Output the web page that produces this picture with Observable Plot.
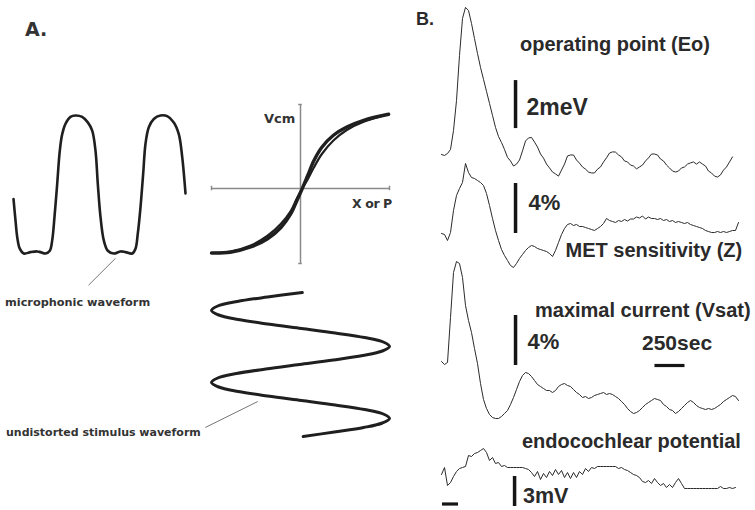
<!DOCTYPE html>
<html><head><meta charset="utf-8">
<script src="https://cdn.jsdelivr.net/npm/d3@7"></script>
<script src="https://cdn.jsdelivr.net/npm/@observablehq/plot@0.6"></script>
<style>
html,body{margin:0;padding:0;background:#fff;}
#fig{position:relative;width:755px;height:510px;overflow:hidden;background:#fff;}
.lbl{position:absolute;white-space:nowrap;line-height:1;}
.fa{font-family:"DejaVu Sans",sans-serif;font-weight:bold;color:#333;}
.fb{font-family:"Liberation Sans",Arial,sans-serif;font-weight:bold;color:#2a2a2a;}
</style></head><body><div id="fig"></div><script>
// ---------- Panel A data ----------
// microphonic waveform: time (arb. units) and normalised Vcm
const micTime = [0,2,3.7,6.3,10.3,17,23.7,27,32,36.3,38.7,41,43.7,46.3,48.7,52,57,62,68.7,74.3,78.7,82,84.3,87,90.3,94.3,100.3,107,112,118.7,122,124.3,127,129.7,132,135.3,140.3,147,153.7,160.3,165.3,168.7,172];
const micVcm  = [-0.21,-0.52,-0.76,-0.93,-1.0,-0.98,-0.97,-0.98,-1.0,-0.96,-0.81,-0.47,0.01,0.49,0.73,0.88,0.98,1.0,0.98,0.90,0.78,0.49,0.01,-0.47,-0.81,-0.96,-1.0,-0.97,-0.98,-1.0,-0.93,-0.71,-0.33,0.16,0.59,0.83,0.95,1.0,0.99,0.90,0.73,0.40,-0.13];
// transfer function (X or P -> Vcm), two branches of the loop
const tfX       = [-1.0,-0.79,-0.56,-0.37,-0.22,-0.11,-0.04,0.02,0.08,0.15,0.24,0.37,0.52,0.71,0.99];
const tfBranch1 = [-0.86,-0.85,-0.78,-0.67,-0.52,-0.34,-0.16,0.0,0.17,0.37,0.55,0.71,0.82,0.91,0.99];
const tfBranch2 = [-0.86,-0.84,-0.76,-0.63,-0.47,-0.30,-0.13,0.0,0.12,0.28,0.46,0.64,0.78,0.89,0.99];
const tfAxisX = [-1, 1];
const tfAxisY = [-1.0, 1.12];
// undistorted stimulus waveform: amplitude sampled every 1/16 cycle
const stimStep = 1/16;
const stimAmp = [0.02,-0.37,-0.71,-0.93,-1.0,-0.92,-0.70,-0.37,0.01,0.39,0.72,0.93,1.0,0.92,0.70,0.37,-0.01,-0.39,-0.72,-0.93,-1.0,-0.92,-0.70,-0.37,0.01,0.39,0.72,0.93,1.0,0.92,0.71,0.38,0.03];

// ---------- Panel B data (sampled every 25 sec) ----------
const dt = 25; // sec
const operatingPoint = [0.25,0.21,0.29,0.46,1.25,2.5,4.38,5.92,6.38,6.25,
 5.71,5.08,4.46,3.88,3.38,2.88,2.38,1.88,1.38,1.0,
 0.75,0.46,0.13,-0.02,-0.23,-0.15,0.02,0.40,0.81,0.94,
 0.96,0.77,0.56,0.27,0.10,-0.15,-0.31,-0.48,-0.56,-0.65,
 -0.40,-0.15,0.19,0.23,0.23,0.02,-0.11,-0.27,-0.36,-0.48,
 -0.52,-0.52,-0.36,-0.27,-0.06,0.11,0.31,0.36,0.35,0.23,
 0.15,-0.02,-0.06,-0.19,-0.23,-0.35,-0.27,-0.19,-0.02,0.11,
 0.27,0.27,0.23,0.06,-0.02,-0.19,-0.31,-0.44,-0.48,-0.44,
 -0.31,-0.27,-0.15,-0.10,-0.06,-0.15,-0.06,-0.15,-0.23,-0.44,
 -0.52,-0.65,-0.69,-0.60,-0.40,-0.27,-0.06,0.15]; // meV
const metSensitivity = [0.0,-0.08,-0.56,0.08,1.84,3.04,3.6,4.08,5.6,4.88,
 4.48,4.4,4.24,4.08,3.84,3.2,2.24,1.2,0.24,-0.56,
 -1.28,-1.76,-2.16,-2.56,-2.72,-2.4,-2.0,-1.68,-1.36,-1.12,
 -0.96,-1.04,-1.2,-1.28,-1.36,-1.44,-1.6,-1.84,-1.36,-0.72,
 -0.08,0.4,0.72,0.8,0.64,0.72,0.56,0.56,0.48,0.40,
 0.32,0.24,0.40,0.56,0.8,1.2,1.04,0.96,0.88,1.04,
 0.96,1.12,1.0,1.16,1.16,1.32,1.24,1.4,1.16,1.32,
 1.2,1.2,1.12,1.2,1.04,1.12,0.96,1.04,0.88,0.96,
 0.88,0.8,0.88,0.72,0.64,0.56,0.48,0.4,0.24,0.16,
 0.08,0.08,0.16,0.08,0.16,0.08,0.16,0.24,0.24,0.88]; // %
const maximalCurrent = [-0.08,-0.32,-0.16,3.44,7.04,7.92,7.76,6.64,4.4,3.2,
 2.24,0.96,-0.24,-1.84,-3.12,-3.84,-4.32,-4.56,-4.64,-4.64,
 -4.48,-4.24,-4.0,-3.52,-2.96,-2.32,-1.68,-1.2,-0.96,-1.04,
 -1.28,-1.6,-1.92,-2.08,-2.24,-2.4,-2.4,-2.56,-2.4,-2.08,
 -1.92,-1.84,-2.0,-2.08,-2.32,-2.56,-2.72,-2.96,-2.88,-3.04,
 -2.96,-2.8,-2.72,-2.64,-2.56,-2.72,-2.64,-2.72,-2.88,-3.04,
 -3.28,-3.52,-3.84,-4.08,-4.24,-4.16,-4.0,-3.76,-3.52,-3.36,
 -3.2,-3.04,-3.12,-3.2,-3.52,-3.68,-3.92,-4.0,-4.24,-4.08,
 -3.84,-3.6,-3.36,-3.2,-3.36,-3.6,-3.76,-3.84,-3.92,-3.84,
 -3.92,-3.84,-3.68,-3.52,-3.28,-3.12,-2.96,-2.8,-2.88,-3.2]; // %
const endocochlear = [-0.4,0.3,-1.5,-1.2,-0.6,-0.1,0.2,0.3,0.4,1.5,
 1.4,1.7,1.8,2.0,2.2,1.8,1.0,1.3,0.7,0.8,
 0.4,0.5,0.3,0.3,0.3,0.3,0.3,0.3,0.2,0.1,
 -0.2,-0.6,-0.1,-0.9,-0.3,-0.7,-0.1,-0.5,0.1,-0.4,
 0.0,-0.7,-0.2,-0.8,-0.2,-0.7,-0.1,-0.4,0.2,-0.1,
 0.3,0.2,0.4,0.4,0.4,0.4,0.4,0.4,0.4,0.2,
 0.3,0.1,0.0,-0.2,-0.4,-0.5,-0.7,-1.1,-1.2,-1.0,
 -1.3,-0.8,-1.2,-1.5,-1.3,-1.7,-1.4,-1.7,-1.2,-0.8,
 -1.3,-1.8,-1.8,-1.8,-1.8,-1.8,-1.8,-1.8,-1.8,-1.8,
 -1.8,-1.8,-1.8,-1.6,-1.8,-1.8,-1.7,-1.8,-1.7]; // mV
// scale bar values
const barEo = 2, barZ = 4, barVsat = 4, barEP = 3, barTime = 250;

// ---------- Texts ----------
const texts = {
  A: "A.", B: "B.",
  mic: "microphonic waveform", stim: "undistorted stimulus waveform",
  vcm: "Vcm", xp: "X or P",
  eo: "operating point (Eo)", eoBar: "2meV",
  z: "MET sensitivity (Z)", zBar: "4%",
  vsat: "maximal current (Vsat)", vsatBar: "4%", time: "250sec",
  ep: "endocochlear potential", epBar: "3mV"
};

// ---------- layout ----------
const fig = document.getElementById("fig");
function layer(x, y, marks) {
  const svg = Plot.plot({
    width: 755, height: 510, margin: 0,
    x: {...x, axis: null}, y: {...y, axis: null},
    style: "position:absolute;left:0;top:0;background:transparent;overflow:visible;",
    marks
  });
  fig.appendChild(svg);
}
const ink = "#1f1f1f";

// microphonic waveform
layer({domain:[0,172], range:[13,185]}, {domain:[-1,1], range:[253,115]}, [
  Plot.line(micTime.map((t,i)=>({t, v:micVcm[i]})), {x:"t", y:"v", curve:"catmull-rom", stroke:ink, strokeWidth:2.6, strokeLinejoin:"round", strokeLinecap:"round"}),
  Plot.link([{x1:75,y1:-1.46,x2:102,y2:-1.07}], {x1:"x1",y1:"y1",x2:"x2",y2:"y2", stroke:"#777", strokeWidth:1})
]);

// transfer function
layer({domain:[-1,1], range:[211,389]}, {domain:[0,1], range:[188,113]}, [
  Plot.ruleY([0], {x1:tfAxisX[0], x2:tfAxisX[1], stroke:"#8a8a8a", strokeWidth:1.5}),
  Plot.ruleX([0], {y1:tfAxisY[0], y2:tfAxisY[1], stroke:"#8a8a8a", strokeWidth:1.5}),
  Plot.ruleX(tfAxisX, {y1:-0.03, y2:0.03, stroke:"#8a8a8a", strokeWidth:1.5}),
  Plot.ruleY(tfAxisY, {x1:-0.02, x2:0.02, stroke:"#8a8a8a", strokeWidth:1.5}),
  Plot.line(tfX.map((x,i)=>({x, v:tfBranch2[i]})), {x:"x", y:"v", curve:"catmull-rom", stroke:ink, strokeWidth:2.2}),
  Plot.line(tfX.map((x,i)=>({x, v:tfBranch1[i]})), {x:"x", y:"v", curve:"catmull-rom", stroke:ink, strokeWidth:3.4, strokeLinecap:"round"})
]);

// stimulus waveform (time runs downward)
layer({domain:[-1,1], range:[211,389]}, {domain:[0,2], range:[292,436]}, [
  Plot.line(stimAmp.map((a,i)=>({a, t:i*stimStep})), {x:"a", y:"t", curve:"catmull-rom", stroke:ink, strokeWidth:3, strokeLinecap:"round"}),
  Plot.link([{x1:-1.07,y1:1.875,x2:-0.48,y2:1.514}], {x1:"x1",y1:"y1",x2:"x2",y2:"y2", stroke:"#777", strokeWidth:1})
]);

// panel B traces
const tx = {domain:[0,2500], range:[441,741]};
const traceStyle = {x:"t", y:"v", stroke:"#2b2b2b", strokeWidth:1};
const series = vals => vals.map((v,i)=>({t:i*dt, v}));
const barStyle = {stroke:"#151515", strokeWidth:3.5};
const barT = 617;

layer(tx, {domain:[0,1], range:[160,136]}, [
  Plot.line(series(operatingPoint), traceStyle),
  Plot.ruleX([barT], {y1:1.33, y2:1.33+barEo, ...barStyle})
]);
layer(tx, {domain:[0,1], range:[233,220.5]}, [
  Plot.line(series(metSensitivity), traceStyle),
  Plot.ruleX([barT], {y1:0, y2:barZ, ...barStyle})
]);
layer(tx, {domain:[0,1], range:[360,347.5]}, [
  Plot.line(series(maximalCurrent), traceStyle),
  Plot.ruleX([barT], {y1:-0.4, y2:-0.4+barVsat, ...barStyle}),
  Plot.ruleY([-0.4], {x1:1779, x2:1779+barTime, stroke:"#151515", strokeWidth:3.2})
]);
layer(tx, {domain:[0,1], range:[470,460]}, [
  Plot.line(series(endocochlear), traceStyle),
  Plot.ruleX([barT-8], {y1:-3.6, y2:-3.6+barEP, ...barStyle}),
  Plot.ruleY([-3.35], {x1:8, x2:142, stroke:"#151515", strokeWidth:3.2})
]);

// text labels
const labelLayout = [
  ["A","fa",19,25,20],["B","fb",18,416,9.8],
  ["mic","fa",11.3,5,297.2],["stim","fa",11,6,427.4],
  ["vcm","fa",13,264,112],["xp","fa",12.5,352,197.5],
  ["eo","fb",20,520,33.8],["eoBar","fb",23,526.5,95.6],
  ["z","fb",20,565.5,240.4],["zBar","fb",22,528.5,192.1],
  ["vsat","fb",20,535,299.8],["vsatBar","fb",22,527.5,331.4],["time","fb",21,642,331.5],
  ["ep","fb",20,522,431.4],["epBar","fb",21.5,523,485.8]
];
for (const [k, cls, size, left, top] of labelLayout) {
  const d = document.createElement("div");
  d.className = "lbl " + cls;
  d.textContent = texts[k];
  d.style.fontSize = size + "px";
  d.style.left = left + "px";
  d.style.top = top + "px";
  if (k === "xp") d.style.letterSpacing = "-0.4px";
  fig.appendChild(d);
}
</script></body></html>
